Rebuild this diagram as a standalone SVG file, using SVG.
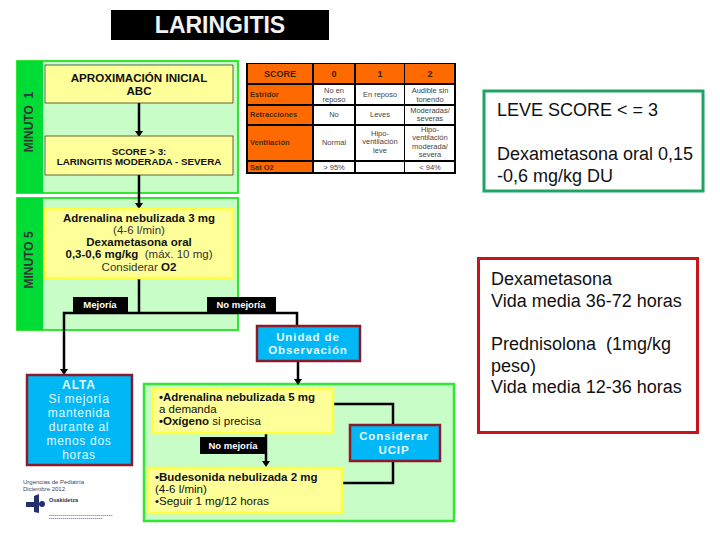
<svg xmlns="http://www.w3.org/2000/svg" width="720" height="540" viewBox="0 0 720 540">
<style>
text{font-family:"Liberation Sans",Arial,sans-serif;fill:#111;white-space:pre}
.panel{fill:#c8fdc8;stroke:#33e633;stroke-width:2}
.bar{fill:#00dc36}
.yl{fill:#ffff99;stroke:#ffff40;stroke-width:2.5}
.yd{fill:#ffff99;stroke:#222;stroke-width:.7}
.blue{fill:#00b8f5;stroke:#8b1a2b;stroke-width:2.5}
.w{fill:#e6f8ff;font-weight:bold;text-anchor:middle;font-size:11.5px;letter-spacing:.9px}
.wn{fill:#e6f8ff;text-anchor:middle;font-size:12px;letter-spacing:.7px}
.lbl{fill:#fff;font-weight:bold;font-size:9.5px;text-anchor:middle}
.c{text-anchor:middle}
.b{font-weight:bold}
.y{font-size:11.5px}
.sm{font-size:11.5px}
.min{font-size:12px;font-weight:bold;fill:#333;text-anchor:middle}
.t{font-size:7.5px;text-anchor:middle;fill:#444}
.th{font-size:9px;font-weight:bold;text-anchor:middle;fill:#3a2208}
.rh{font-size:7.5px;font-weight:bold;fill:#4a2a08}
.o{fill:#ff6a00}
.big{font-size:18px}
.ln{fill:none;stroke:#000;stroke-width:2.5}
.ar{fill:#000}
</style>

<g id="title"><rect x="111" y="10" width="218" height="30" fill="#000"/><text x="220" y="33" text-anchor="middle" font-size="23" font-weight="bold" style="fill:#f2f2f2">LARINGITIS</text></g>

<g id="minuto1">
<rect class="panel" x="17" y="61" width="221" height="132"/><rect class="bar" x="17" y="61" width="26" height="132"/>
<text class="min" transform="translate(33 122) rotate(-90)">MINUTO  1</text>
</g>
<g id="minuto5">
<rect class="panel" x="17" y="198" width="221" height="132"/><rect class="bar" x="17" y="198" width="26" height="132"/>
<text class="min" transform="translate(33 260) rotate(-90)">MINUTO 5</text>
</g>
<g id="panel-observacion"><rect fill="#c8fdc8" stroke="#33e633" stroke-width="2.5" x="144" y="384" width="310" height="137"/></g>

<g id="connectors">
<path class="ln" d="M139 103V133M139 175V205M139 278V313M64 370V313H297V326M298 361V381M266 433V463M333 404H393V425M393 461V483H342"/>
<path class="ar" d="M135 131h8l-4 6zM135 203h8l-4 6zM60 369h8l-4 6zM294 379h8l-4 6zM262 461h8l-4 6z"/>
</g>

<g id="aproximacion"><rect class="yd" x="45" y="65" width="188" height="38"/>
<text class="c b" x="139" y="82" font-size="11.600">APROXIMACIÓN INICIAL</text><text class="c b" x="139" y="95" font-size="11.600">ABC</text></g>
<g id="score"><rect class="yd" x="45" y="136" width="188" height="39"/>
<text class="c b" x="139" y="155" font-size="9.800">SCORE &gt; 3:</text><text class="c b" x="139" y="165" font-size="9.800">LARINGITIS MODERADA - SEVERA</text></g>

<g id="tabla">
<rect x="246" y="63" width="210" height="111" fill="#000"/>
<g class="o"><rect x="248" y="64" width="64" height="19"/><rect x="314" y="64" width="40" height="19"/><rect x="356" y="64" width="48" height="19"/><rect x="405" y="64" width="49" height="19"/>
<rect x="248" y="85" width="64" height="19"/><rect x="248" y="106" width="64" height="18"/><rect x="248" y="126" width="64" height="34"/><rect x="248" y="162" width="64" height="10"/></g>
<g fill="#fff"><rect x="314" y="85" width="40" height="19"/><rect x="356" y="85" width="48" height="19"/><rect x="405" y="85" width="49" height="19"/>
<rect x="314" y="106" width="40" height="18"/><rect x="356" y="106" width="48" height="18"/><rect x="405" y="106" width="49" height="18"/>
<rect x="314" y="126" width="40" height="34"/><rect x="356" y="126" width="48" height="34"/><rect x="405" y="126" width="49" height="34"/>
<rect x="314" y="162" width="40" height="10"/><rect x="356" y="162" width="48" height="10"/><rect x="405" y="162" width="49" height="10"/></g>
<text class="th" x="280" y="77">SCORE</text><text class="th" x="334" y="77">0</text><text class="th" x="380" y="77">1</text><text class="th" x="430" y="77">2</text>
<text class="rh" x="250" y="97">Estridor</text><text class="rh" x="250" y="117">Retracciones</text><text class="rh" x="250" y="145">Ventilación</text><text class="rh" x="250" y="170">Sat O2</text>
<text class="t" x="334" y="93">No en</text><text class="t" x="334" y="102">reposo</text><text class="t" x="380" y="97">En reposo</text><text class="t" x="430" y="93">Audible sin</text><text class="t" x="430" y="102">tonendo</text>
<text class="t" x="334" y="117">No</text><text class="t" x="380" y="117">Leves</text><text class="t" x="430" y="113">Moderadas/</text><text class="t" x="430" y="121" font-size="6">severas</text>
<text class="t" x="334" y="145">Normal</text><text class="t" x="380" y="136">Hipo-</text><text class="t" x="380" y="144">ventilación</text><text class="t" x="380" y="153">leve</text>
<text class="t" x="430" y="132">Hipo-</text><text class="t" x="430" y="140">ventilación</text><text class="t" x="430" y="149">moderada/</text><text class="t" x="430" y="157">severa</text>
<text class="t" x="334" y="170" font-size="6.500">&gt; 95%</text><text class="t" x="430" y="170" font-size="6.500">&lt; 94%</text>
</g>

<g id="adrenalina3"><rect class="yl" x="45" y="209" width="188" height="69"/>
<text class="c y b" x="139" y="222">Adrenalina nebulizada 3 mg</text>
<text class="c y" x="139" y="234" style="fill:#333">(4-6 l/min)</text>
<text class="c y b" x="139" y="246">Dexametasona oral</text>
<text class="c y" x="139" y="258"><tspan class="b">0,3-0,6 mg/kg</tspan><tspan style="fill:#333">  (máx. 10 mg)</tspan></text>
<text class="c y" x="139" y="271"><tspan style="fill:#333">Considerar </tspan><tspan class="b">O2</tspan></text></g>

<g id="mejoria"><rect x="73" y="297" width="55" height="16" fill="#000"/><text class="lbl" x="100" y="308">Mejoría</text></g>
<g id="no-mejoria"><rect x="207" y="297" width="69" height="16" fill="#000"/><text class="lbl" x="241" y="308">No mejoría</text></g>

<g id="unidad"><rect class="blue" x="257" y="326" width="103" height="35"/><text class="w" x="308" y="341">Unidad de</text><text class="w" x="308" y="354">Observación</text></g>

<g id="alta"><rect class="blue" x="27" y="375" width="105" height="90"/>
<text class="w" x="79" y="389" style="font-size:12px">ALTA</text>
<text class="wn" x="79" y="403">Si mejoría</text><text class="wn" x="79" y="417">mantenida</text><text class="wn" x="79" y="431">durante al</text><text class="wn" x="79" y="445">menos dos</text><text class="wn" x="79" y="459">horas</text></g>

<g id="adrenalina5"><rect class="yl" x="153" y="389" width="180" height="44"/>
<text class="sm" x="159" y="401"><tspan class="b">•Adrenalina nebulizada 5 mg</tspan></text>
<text class="sm" x="159" y="413">a demanda</text>
<text class="sm" x="159" y="425"><tspan class="b">•Oxígeno</tspan> si precisa</text></g>

<g id="no-mejoria-2"><rect x="200" y="437" width="66" height="17" fill="#000"/><text class="lbl" x="233" y="449">No mejoría</text></g>

<g id="budesonida"><rect class="yl" x="148" y="468" width="194" height="45"/>
<text class="sm" x="155" y="481"><tspan class="b">•Budesonida nebulizada 2 mg</tspan></text>
<text class="sm" x="155" y="493">(4-6 l/min)</text>
<text class="sm" x="155" y="505">•Seguir 1 mg/12 horas</text></g>

<g id="ucip"><rect class="blue" x="350" y="425" width="90" height="36"/><text class="w" x="394" y="440">Considerar</text><text class="w" x="394" y="454">UCIP</text></g>

<g id="logo">
<text x="23" y="484" font-size="6" style="fill:#445">Urgencias de Pediatría</text>
<text x="23" y="491" font-size="6" style="fill:#445">Diciembre 2012</text>
<text x="49" y="502" font-size="5.500" font-weight="bold" style="fill:#334">Osakidetza</text>
<path d="M26 502h8v-6l5-2v19l-5-1v-5h-8z" fill="#24306e"/><circle cx="42" cy="504" r="3" fill="#24306e"/>
<path d="M49 515.500h64M49 518.500h54" stroke="#99a" stroke-width="1" stroke-dasharray="1.500 .5" fill="none"/>
</g>

<g id="leve"><rect x="484" y="91" width="219" height="100" fill="#fff" stroke="#1fa463" stroke-width="3"/>
<text class="big" x="497" y="116">LEVE SCORE &lt; = 3</text>
<text class="big" x="497" y="160">Dexametasona oral 0,15</text>
<text class="big" x="497" y="182">-0,6 mg/kg DU</text></g>

<g id="vida-media"><rect x="478.500" y="258.500" width="219" height="174" fill="#fff" stroke="#c8141c" stroke-width="3"/>
<text class="big" x="491" y="285">Dexametasona</text>
<text class="big" x="491" y="307">Vida media 36-72 horas</text>
<text class="big" x="491" y="350">Prednisolona  (1mg/kg</text>
<text class="big" x="491" y="372">peso)</text>
<text class="big" x="491" y="393">Vida media 12-36 horas</text></g>
</svg>
